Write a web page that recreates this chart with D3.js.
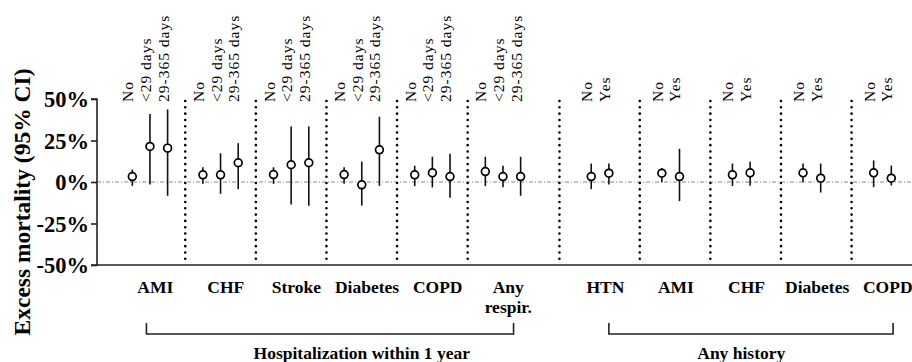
<!DOCTYPE html>
<html>
<head>
<meta charset="utf-8">
<script src="https://cdn.jsdelivr.net/npm/d3@7"></script>
<style>
  html, body { margin: 0; padding: 0; background: #fff; }
  svg { display: block; }
  text { font-family: "Liberation Serif", "Times New Roman", serif; fill: #000; }
</style>
</head>
<body>
<svg id="chart" width="912" height="362"></svg>
<script>
// Excess mortality estimates with 95% confidence intervals, by subgroup.
const panels = ["Hospitalization within 1 year", "Any history"];
const panelGroups = [
  ["AMI", "CHF", "Stroke", "Diabetes", "COPD", "Any respir."],
  ["HTN", "AMI", "CHF", "Diabetes", "COPD"]
];
const panelLevels = [
  ["No", "<29 days", "29-365 days"],
  ["No", "Yes"]
];
const yTicks = [-50, -25, 0, 25, 50];

// Point estimates (%), listed group by group, level by level
const estimate = [
  3.3, 21.4, 20.4,
  4.3, 4.3, 11.6,
  4.5, 10.4, 11.6,
  4.5, -1.7, 19.4,
  4.3, 5.5, 3.3,
  6.3, 3.3, 3.3,
  3.3, 5.3,
  5.3, 3.3,
  4.3, 5.5,
  5.5, 2.3,
  5.5, 2.3
];
const lower = [
  -2.3, -1.5, -8.3,
  -1.1, -7.1, -4.3,
  -1.1, -13.6, -14.3,
  -1.1, -14.2, -2.3,
  -2.5, -3.3, -9.5,
  -2.5, -3.1, -8.3,
  -4.3, -1.5,
  -0.1, -11.5,
  -2.5, -2.3,
  -0.1, -6.3,
  -3.1, -2.1
];
const upper = [
  7.5, 41.0, 43.7,
  8.9, 17.3, 23.4,
  8.9, 33.4, 33.4,
  8.9, 12.3, 39.3,
  9.8, 15.2, 17.0,
  15.2, 9.8, 15.2,
  11.1, 11.1,
  8.5, 20.0,
  11.1, 12.2,
  11.1, 11.1,
  13.0, 9.9
];

// ---- layout ----
const W = 912, H = 362;
const plotTop = 99, plotBottom = 265, axisX = 97;
const slotsPerGroup = 4;           // levels plus spacing between groups
const panelStart = [0, 26];        // first slot of each panel
const bracketSpan = [[0.8, 21.6], [27, 43.1]];
const panelLabelAt = [13, 34.5];

// Build the flat list of points with their slot positions
const points = [];
const groupInfo = [];
const separators = [];
panels.forEach((p, pi) => {
  const levels = panelLevels[pi];
  panelGroups[pi].forEach((g, gi) => {
    const first = panelStart[pi] + gi * slotsPerGroup;
    groupInfo.push({ name: g, panel: pi, center: first + (levels.length - 1) / 2 });
    levels.forEach((lv, li) => {
      points.push({ panel: pi, group: g, level: lv, slot: first + li });
    });
    if (gi > 0) {
      separators.push(first - (slotsPerGroup - levels.length + 1) / 2 + (pi === 1 ? 0.25 : 0));
    }
  });
});
separators.push(24.2); // boundary between the two panels
points.forEach((d, i) => {
  d.est = estimate[i]; d.lo = lower[i]; d.hi = upper[i];
});

const x = d3.scaleLinear().domain([0, 43]).range([132.3, 891.3]);
const y = d3.scaleLinear().domain([-50, 50]).range([plotBottom, plotTop]);

const svg = d3.select("#chart");

// zero reference line
svg.append("line")
  .attr("x1", axisX).attr("x2", W)
  .attr("y1", y(0)).attr("y2", y(0))
  .attr("stroke", "#8a8a8a").attr("stroke-width", 1)
  .attr("stroke-dasharray", "4,2,1,2");

// dotted group separators
svg.append("g").selectAll("line").data(separators).join("line")
  .attr("x1", d => x(d)).attr("x2", d => x(d))
  .attr("y1", plotTop + 2).attr("y2", plotBottom)
  .attr("stroke", "#000").attr("stroke-width", 2.6)
  .attr("stroke-linecap", "round")
  .attr("stroke-dasharray", "0.01,6.3");

// y axis
const yAxis = d3.axisLeft(y).tickValues(yTicks).tickSize(6).tickFormat(d => d + "%");
const yg = svg.append("g").attr("transform", `translate(${axisX},0)`).call(yAxis);
yg.select(".domain").attr("stroke", "#222").attr("stroke-width", 1.6)
  .attr("d", `M-6,${plotTop}H0V${plotBottom}H-6`);
yg.selectAll(".tick line").attr("stroke", "#222").attr("stroke-width", 1.6);
yg.selectAll(".tick text")
  .attr("x", -8).attr("dy", "0.35em")
  .style("font-family", '"Liberation Serif", serif')
  .style("font-size", "22.5px").style("font-weight", "bold").attr("fill", "#000");

// x baseline
svg.append("line")
  .attr("x1", axisX).attr("x2", W)
  .attr("y1", plotBottom).attr("y2", plotBottom)
  .attr("stroke", "#222").attr("stroke-width", 1.6);

// y axis title
svg.append("text")
  .attr("transform", `translate(30,202) rotate(-90)`)
  .attr("text-anchor", "middle")
  .style("font-size", "23.5px").style("font-weight", "bold")
  .text("Excess mortality (95% CI)");

// confidence intervals
svg.append("g").selectAll("line").data(points).join("line")
  .attr("x1", d => x(d.slot)).attr("x2", d => x(d.slot))
  .attr("y1", d => y(d.lo)).attr("y2", d => y(d.hi))
  .attr("stroke", "#111").attr("stroke-width", 1.6);

// point estimates
svg.append("g").selectAll("circle").data(points).join("circle")
  .attr("cx", d => x(d.slot)).attr("cy", d => y(d.est))
  .attr("r", 3.9)
  .attr("fill", "#fff").attr("stroke", "#000").attr("stroke-width", 1.7);

// rotated level labels
svg.append("g").selectAll("text").data(points).join("text")
  .attr("transform", d => `translate(${x(d.slot) + 1},102) rotate(-90)`)
  .attr("text-anchor", "start")
  .style("font-size", "15.5px").style("letter-spacing", "1px")
  .text(d => d.level);

// group labels under the axis
const gl = svg.append("g").selectAll("text").data(groupInfo).join("text")
  .attr("x", d => x(d.center + 0.3))
  .attr("y", 293)
  .attr("text-anchor", "middle")
  .style("font-size", "17.5px").style("font-weight", "bold");
gl.each(function (d) {
  const parts = d.name === "Any respir." ? ["Any", "respir."] : [d.name];
  d3.select(this).selectAll("tspan").data(parts).join("tspan")
    .attr("x", x(d.center + 0.3))
    .attr("dy", (t, i) => i === 0 ? 0 : 19.5)
    .text(t => t);
});

// panel brackets and titles
panels.forEach((p, pi) => {
  const [a, b] = bracketSpan[pi];
  svg.append("path")
    .attr("d", `M${x(a)},323V334H${x(b)}V323`)
    .attr("fill", "none").attr("stroke", "#222").attr("stroke-width", 1.6);
  svg.append("text")
    .attr("x", x(panelLabelAt[pi])).attr("y", 358.5)
    .attr("text-anchor", "middle")
    .style("font-size", "17.5px").style("font-weight", "bold")
    .text(p);
});
</script>
</body>
</html>
